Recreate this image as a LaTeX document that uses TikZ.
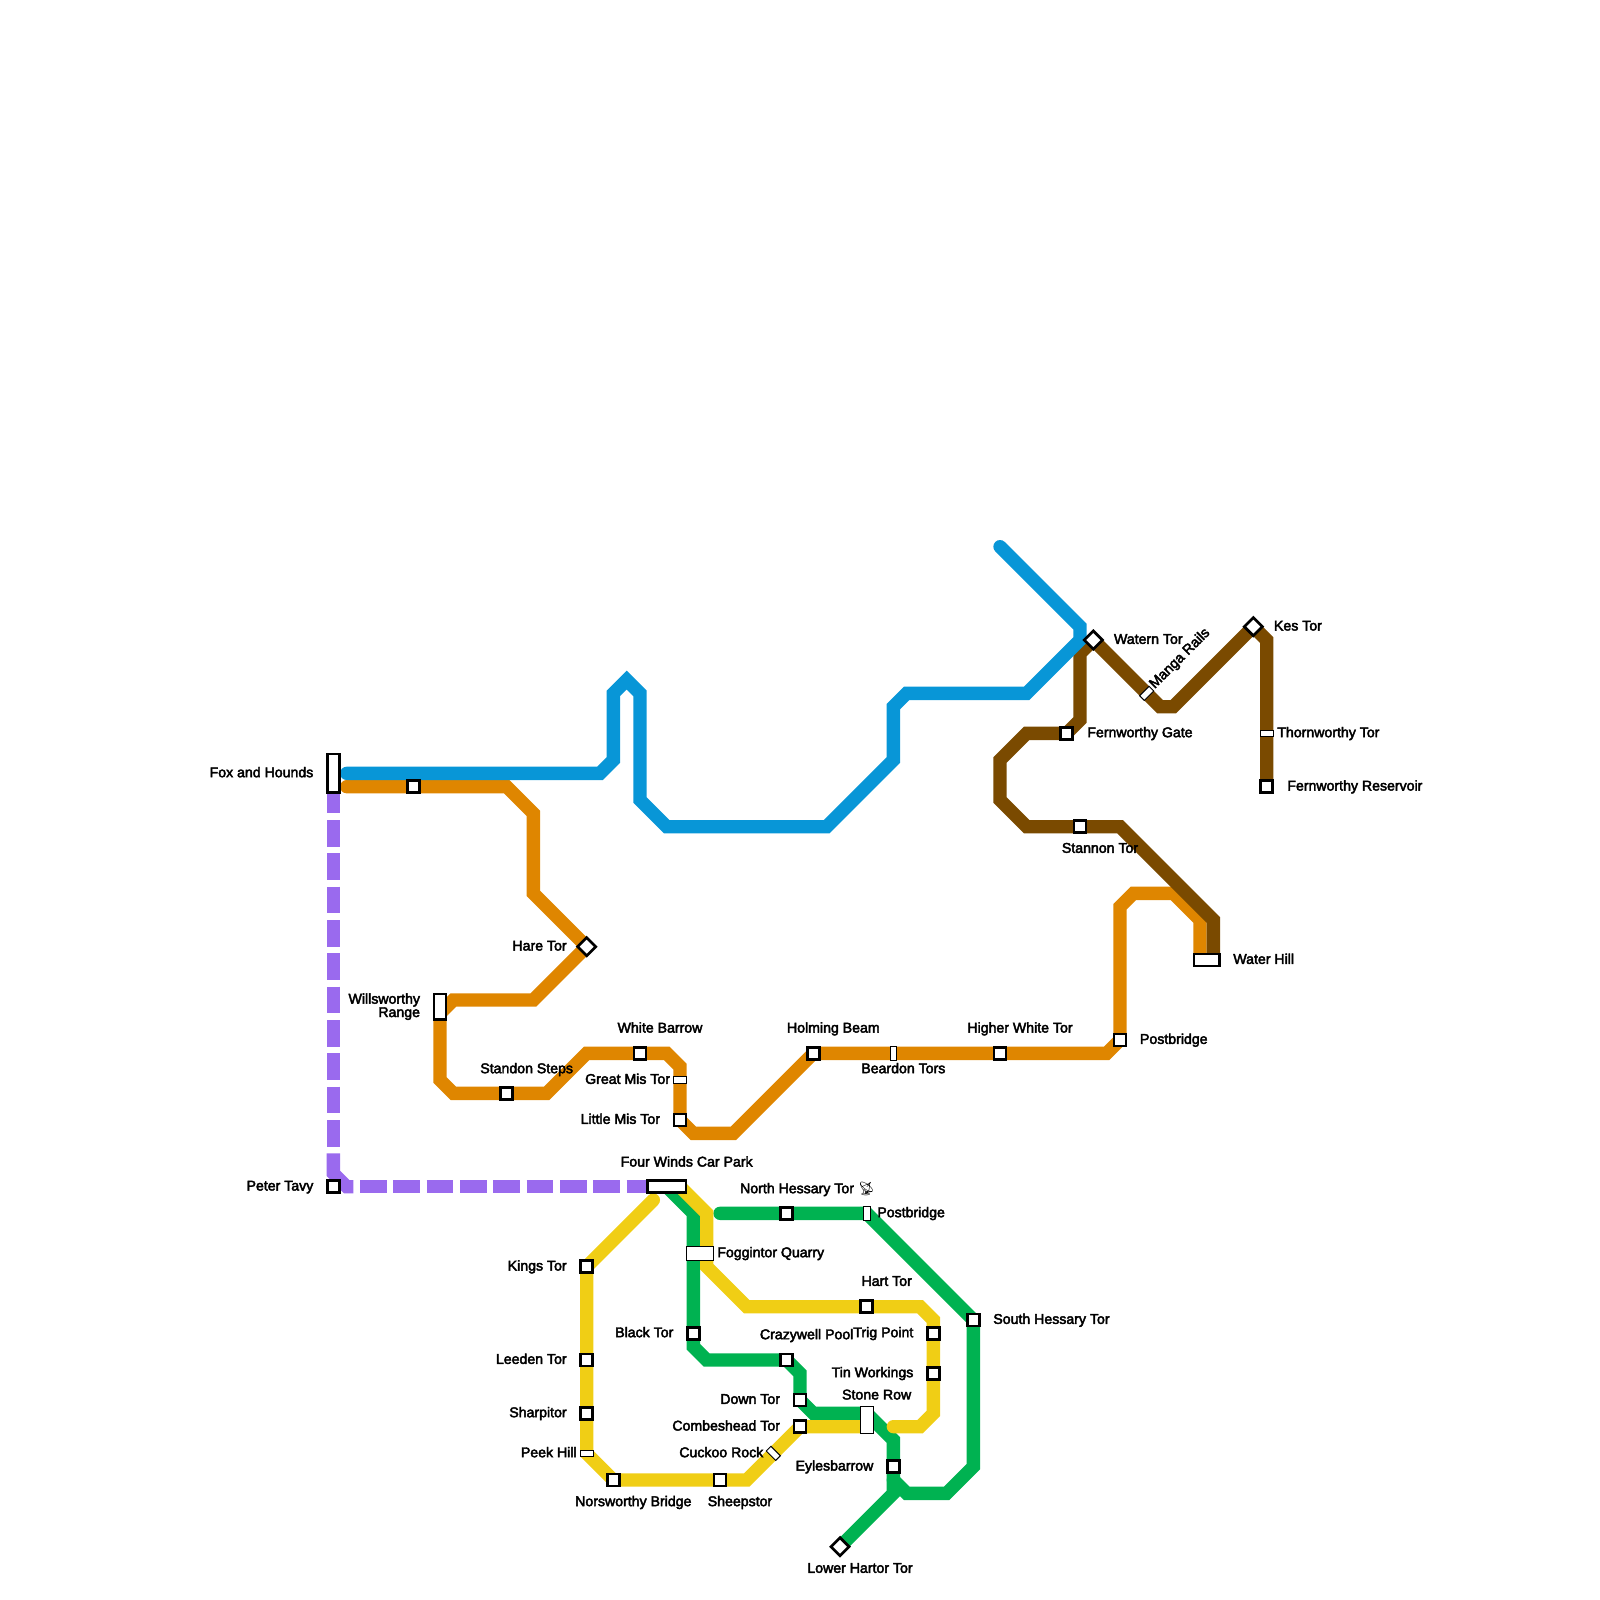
\documentclass[tikz,border=0pt]{standalone}
\usepackage{fontspec}
\newfontfamily\mapfont[FakeBold=3]{Liberation Sans}
\newfontfamily\emojifont{Noto Emoji}
\definecolor{lnBlue}{HTML}{0896D7}
\definecolor{lnOrange}{HTML}{DF8600}
\definecolor{lnBrown}{HTML}{7A4A00}
\definecolor{lnYellow}{HTML}{F0CE15}
\definecolor{lnGreen}{HTML}{00B251}
\definecolor{lnPurple}{HTML}{9A6AEE}
\pgfdeclarelayer{routes}
\pgfsetlayers{routes,main}
\tikzset{
 moor/.style={x=10pt,y=-10pt},
 route/.style={line width=10pt,line join=miter,line cap=round},
 dashroute/.style={route,draw=lnPurple,line cap=butt,dash pattern=on 20pt off 5pt},
 stn/.style={rectangle,draw=black,fill=white,line width=2pt,inner sep=0pt,outer sep=0pt,minimum width=#1*10pt-1pt,minimum height=9pt},
 stn/.default=1,
 tall/.style={minimum height=#1*10pt-1pt},
 halt/.style={rectangle,draw=black,fill=white,line width=.75pt,inner sep=0pt,outer sep=0pt,minimum width=10pt,minimum height=5pt},
 stop/.style={halt,minimum width=5pt,minimum height=10pt},
 tor/.style={stn,minimum width=9.6pt,minimum height=9.6pt,rotate=45},
 txt/.style={font=\mapfont\fontsize{10.6}{10}\selectfont,inner sep=0pt,outer sep=0pt,yshift=-2.9pt},
 lft/.style={txt,anchor=base east},
 rgt/.style={txt,anchor=base west},
 mid/.style={txt,anchor=base}
}
\begin{document}
\begin{tikzpicture}[moor]
 \useasboundingbox (0,0) rectangle (120,120);
 % plain stations, then tors
 \foreach \id/\x/\y in {leat/31/59,standon/38/82,barrow/48/79,littlemis/51/84,holming/61/79,higherwhite/75/79,postO/84/78,
   gate/80/55,stannon/81/62,reservoir/95/59,peter/25/89,kings/44/95,leeden/44/102,sharp/44/106,norsworthy/46/111,sheepstor/54/111,
   combe/60/107,hart/65/98,trig/70/100,tin/70/103,hessary/59/91,black/52/100,crazy/59/102,down/60/105,eyles/67/110,south/73/99}{
  \node[stn] (\id) at (\x,\y) {};
 }
 \foreach \id/\x/\y in {hare/44/71,watern/82/48,kes/94/47,hartor/63/116}{
  \node[tor] (\id) at (\x,\y) {};
 }
 \node[stn,tall=3] (fox) at (25,58) {};
 \node[stn,tall=2] (willsw) at (33,75.5) {};
 \node[stn=3] (winds) at (50,89) {};
 \node[stn=2] (waterhill) at (90.5,72) {};
 \node[halt,minimum width=20pt,minimum height=10pt] (foggin) at (52.5,94) {};
 \node[halt,minimum width=10pt,minimum height=20pt] (stone) at (65,106.5) {};
 \foreach \id/\x/\y in {greatmis/51/81,peek/44/109,thorn/95/55}{
  \node[halt] (\id) at (\x,\y) {};
 }
 \node[stop] (beardon) at (67,79) {};
 \node[stop] (postG) at (65,91) {};
 \node[halt,rotate=-45] (cuckoo) at (58,109) {};
 \node[halt,rotate=45] (manga) at (86,52) {};
 % lines
 \begin{pgfonlayer}{routes}
 \draw[route,lnOrange] (26,59)--(leat.center)--(38,59)--(40,61)--(40,67)--(hare.center)--(40,75)--(34,75)--(33,76)--(33,81)--(34,82)--(standon.center)--(41,82)--(44,79)--(barrow.center)--(50,79)--(51,80)--(greatmis.center)--(littlemis.center)--(52,85)--(55,85)--(holming.center)--(beardon.center)--(higherwhite.center)--(83,79)--(postO.center)--(84,68)--(85,67)--(88,67)--(90,69)--(90,72);
 \draw[route,lnBrown] (91,72)--(91,69)--(84,62)--(stannon.center)--(77,62)--(75,60)--(75,57)--(77,55)--(gate.center)--(81,54)--(81,49)--(watern.center)--(manga.center)--(87,53)--(88,53)--(kes.center)--(95,48)--(thorn.center)--(reservoir.center);
 \draw[route,lnBlue] (26,58)--(45,58)--(46,57)--(46,52)--(47,51)--(48,52)--(48,60)--(50,62)--(62,62)--(67,57)--(67,53)--(68,52)--(77,52)--(81,48)--(81,47)--(75,41);
 \draw[route,lnGreen] (winds.center)--(52,91)--(black.center)--(52,101)--(53,102)--(crazy.center)--(60,103)--(down.center)--(61,106)--(65,106)--(67,108)--(eyles.center)--(67,112)--(hartor.center);
 \draw[route,lnGreen] (54,91)--(hessary.center)--(postG.center)--(south.center)--(73,110)--(71,112)--(68,112)--(67,111);
 \draw[route,lnYellow] (49,90)--(kings.center)--(leeden.center)--(sharp.center)--(peek.center)--(norsworthy.center)--(sheepstor.center)--(56,111)--(cuckoo.center)--(combe.center)--(65,107);
 \draw[route,lnYellow] (51,89)--(53,91)--(53,95)--(56,98)--(hart.center)--(69,98)--(70,99)--(trig.center)--(tin.center)--(70,106)--(69,107)--(67,107);
 \draw[dashroute] (25,59)--(25,86.2);
 \draw[route,lnPurple,line cap=butt] (25,86.5)--(25,88)--(26,89)--(26.5,89);
 \draw[dashroute] (27,89)--(49,89);
 \end{pgfonlayer}
 % labels
 \node[lft] (foxT) at (23.5,58) {Fox and Hounds};
 \node[lft] (peterT) at (23.5,89) {Peter Tavy};
 \node[lft] (hareT) at (42.5,71) {Hare Tor};
 \node[txt,yshift=2.9pt,anchor=east,align=right] (willswT) at (31.5,75.5) {Willsworthy\\Range};
 \node[lft] (kingsT) at (42.5,95) {Kings Tor};
 \node[lft] (leedenT) at (42.5,102) {Leeden Tor};
 \node[lft] (sharpT) at (42.5,106) {Sharpitor};
 \node[lft] (peekT) at (43.25,109) {Peek Hill};
 \node[lft] (greatmisT) at (50.25,81) {Great Mis Tor};
 \node[lft] (littlemisT) at (49.5,84) {Little Mis Tor};
 \node[lft] (blackT) at (50.5,100) {Black Tor};
 \node[lft] (trigT) at (68.5,100) {Trig Point};
 \node[lft] (tinT) at (68.5,103) {Tin Workings};
 \node[lft] (downT) at (58.5,105) {Down Tor};
 \node[lft] (combeT) at (58.5,107) {Combeshead Tor};
 \node[lft] (cuckooT) at (57.25,109) {Cuckoo Rock};
 \node[lft] (eylesT) at (65.5,110) {Eylesbarrow};
 \node[lft] (hessaryT) at (64.05,89.2) {North Hessary Tor};
 \node[mid,font=\emojifont\fontsize{10}{10}\selectfont] (hessaryI) at (65,89.2) {📡};
 \node[mid] (crazyT) at (60.5,100.15) {Crazywell Pool};
 \node[mid] (windsT) at (51.5,87.2) {Four Winds Car Park};
 \node[mid] (barrowT) at (49.5,77.15) {White Barrow};
 \node[mid] (holmingT) at (62.5,77.15) {Holming Beam};
 \node[mid] (beardonT) at (67.75,80.2) {Beardon Tors};
 \node[mid] (higherwhiteT) at (76.5,77.15) {Higher White Tor};
 \node[mid] (standonT) at (39.5,80.2) {Standon Steps};
 \node[mid] (norsworthyT) at (47.5,112.67) {Norsworthy Bridge};
 \node[mid] (sheepstorT) at (55.5,112.67) {Sheepstor};
 \node[mid] (hartorT) at (64.5,117.67) {Lower Hartor Tor};
 \node[mid] (hartT) at (66.5,96.15) {Hart Tor};
 \node[mid] (stoneT) at (65.75,104.67) {Stone Row};
 \node[mid] (stannonT) at (82.5,63.67) {Stannon Tor};
 \node[rgt] (postGT) at (65.8,91) {Postbridge};
 \node[rgt] (fogginT) at (53.8,94) {Foggintor Quarry};
 \node[rgt] (southT) at (74.5,99) {South Hessary Tor};
 \node[rgt] (postOT) at (85.5,78) {Postbridge};
 \node[rgt] (waterhillT) at (92.5,72) {Water Hill};
 \node[rgt] (gateT) at (81.55,55) {Fernworthy Gate};
 \node[rgt] (waternT) at (83.55,48) {Watern Tor};
 \node[rgt] (kesT) at (95.55,47) {Kes Tor};
 \node[rgt] (thornT) at (95.8,55) {Thornworthy Tor};
 \node[rgt] (reservoirT) at (96.55,59) {Fernworthy Reservoir};
 \node[txt,yshift=2.9pt,rotate=45] (mangaT) at (88.5,49.4) {Manga Rails};
\end{tikzpicture}
\end{document}
